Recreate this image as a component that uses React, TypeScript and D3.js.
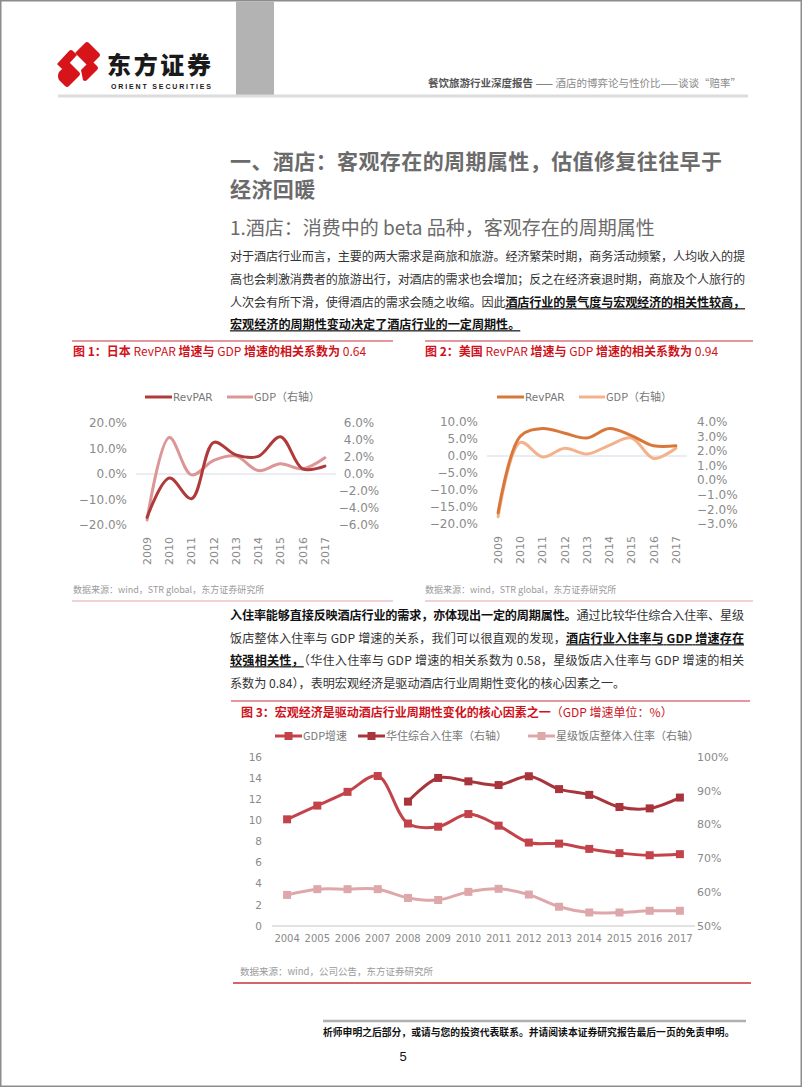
import React from 'react';
import * as d3 from 'd3';

// ---------- data ----------
const years1 = ['2009', '2010', '2011', '2012', '2013', '2014', '2015', '2016', '2017'];
const jpRevpar = [-17.0, -1.6, -9.7, 12.4, 7.5, 6.9, 14.6, 2.0, 3.1];
const jpGdp = [-5.4, 4.3, -0.1, 1.6, 2.1, 0.4, 1.2, 0.6, 1.9];
const jpLeftTicks = [20, 10, 0, -10, -20];
const jpRightTicks = [6, 4, 2, 0, -2, -4, -6];

const usRevpar = [-16.7, 5.8, 8.1, 6.7, 5.3, 8.1, 6.0, 3.0, 3.0];
const usGdp = [-2.5, 2.6, 1.6, 2.2, 1.8, 2.4, 2.9, 1.5, 2.2];
const usLeftTicks = [10, 5, 0, -5, -10, -15, -20];
const usRightTicks = [4, 3, 2, 1, 0, -1, -2, -3];

const years3 = ['2004', '2005', '2006', '2007', '2008', '2009', '2010', '2011', '2012', '2013', '2014', '2015', '2016', '2017'];
const cnGdp = [10.1, 11.4, 12.7, 14.2, 9.7, 9.4, 10.6, 9.5, 7.9, 7.8, 7.3, 6.9, 6.7, 6.8];
const huazhuYears = ['2008', '2009', '2010', '2011', '2012', '2013', '2014', '2015', '2016', '2017'];
const huazhuOcc = [0.868, 0.938, 0.928, 0.917, 0.943, 0.905, 0.888, 0.852, 0.848, 0.880];
const starOcc = [0.592, 0.609, 0.609, 0.609, 0.583, 0.577, 0.601, 0.610, 0.593, 0.557, 0.540, 0.540, 0.545, 0.545];
const c3LeftTicks = [0, 2, 4, 6, 8, 10, 12, 14, 16];
const c3RightTicks = [0.5, 0.6, 0.7, 0.8, 0.9, 1.0];

const CJK = '"Noto Sans CJK SC", "Noto Sans", sans-serif';
const NUM = '"DejaVu Sans", sans-serif';

const fmt1 = (v: number) => (v < 0 ? '−' : '') + Math.abs(v).toFixed(1) + '%';

function DualChart(props: {
  x0: number; x1: number; yTop: number; yBot: number;
  leftDomain: [number, number]; rightDomain: [number, number];
  leftTicks: number[]; rightTicks: number[];
  a: number[]; b: number[]; colA: string; colB: string;
  rightX: number; rightAnchor: 'start' | 'middle'; legendX: number;
}) {
  const { x0, x1, yTop, yBot } = props;
  const x = d3.scalePoint<string>().domain(years1).range([x0, x1]).padding(0.5);
  const yl = d3.scaleLinear().domain(props.leftDomain).range([yBot, yTop]);
  const yr = d3.scaleLinear().domain(props.rightDomain).range([yBot, yTop]);
  const curve = d3.curveCatmullRom.alpha(0.5);
  const lineA = d3.line<number>().x((_, i) => x(years1[i])!).y((d) => yl(d)).curve(curve);
  const lineB = d3.line<number>().x((_, i) => x(years1[i])!).y((d) => yr(d)).curve(curve);
  const lx = props.legendX;
  return (
    <g>
      {/* legend */}
      <line x1={lx} x2={lx + 27} y1={397} y2={397} stroke={props.colA} strokeWidth={3} />
      <text x={lx + 28} y={397} dy="0.35em" fontFamily={NUM} fontSize={10.5} fill="#777">RevPAR</text>
      <line x1={lx + 82} x2={lx + 108} y1={397} y2={397} stroke={props.colB} strokeWidth={3} />
      <text x={lx + 109} y={397} dy="0.35em" fontFamily={CJK} fontSize={11} fill="#777">GDP（右轴）</text>
      {/* zero line */}
      <line x1={x0} x2={x1} y1={yl(0)} y2={yl(0)} stroke="#d3d9e2" strokeWidth={1} />
      {props.leftTicks.map((t) => (
        <text key={'l' + t} x={x0 - 9} y={yl(t)} dy="0.35em" textAnchor="end" fontFamily={NUM} fontSize={12} fill="#8a8a8a">{fmt1(t)}</text>
      ))}
      {props.rightTicks.map((t) => (
        <text key={'r' + t} x={props.rightX} y={yr(t)} dy="0.35em" textAnchor={props.rightAnchor} fontFamily={NUM} fontSize={12} fill="#8a8a8a">{fmt1(t)}</text>
      ))}
      {years1.map((yv) => (
        <text key={yv} transform={`translate(${x(yv)},${yBot + 12}) rotate(-90)`} dy="0.35em" textAnchor="end" fontFamily={NUM} fontSize={11} fill="#8a8a8a">{yv}</text>
      ))}
      <path d={lineB(props.b)!} fill="none" stroke={props.colB} strokeWidth={3} strokeLinecap="round" />
      <path d={lineA(props.a)!} fill="none" stroke={props.colA} strokeWidth={3} strokeLinecap="round" />
    </g>
  );
}

function Chart3() {
  const x = d3.scalePoint<string>().domain(years3).range([272, 695]).padding(0.5);
  const yl = d3.scaleLinear().domain([0, 16]).range([926, 757]);
  const yr = d3.scaleLinear().domain([0.5, 1.0]).range([926, 757]);
  const curve = d3.curveCatmullRom.alpha(0.5);
  const gdpLine = d3.line<number>().x((_, i) => x(years3[i])!).y((d) => yl(d)).curve(curve);
  const hzLine = d3.line<number>().x((_, i) => x(huazhuYears[i])!).y((d) => yr(d)).curve(curve);
  const starLine = d3.line<number>().x((_, i) => x(years3[i])!).y((d) => yr(d)).curve(curve);
  const cG = '#c3434a', cH = '#a8353b', cS = '#dea7aa';
  const ms = 8;
  const legend = [
    { x: 275, label: 'GDP增速', c: cG },
    { x: 358, label: '华住综合入住率（右轴）', c: cH },
    { x: 528, label: '星级饭店整体入住率（右轴）', c: cS },
  ];
  return (
    <g>
      {legend.map((l) => (
        <g key={l.label}>
          <line x1={l.x} x2={l.x + 27} y1={736} y2={736} stroke={l.c} strokeWidth={3} />
          <rect x={l.x + 13.5 - 4} y={736 - 4} width={8} height={8} fill={l.c} />
          <text x={l.x + 28} y={736} dy="0.35em" fontFamily={CJK} fontSize={11} fill="#777">{l.label}</text>
        </g>
      ))}
      <line x1={272} x2={695} y1={926} y2={926} stroke="#d9d9d9" strokeWidth={1.5} />
      {c3LeftTicks.map((t) => (
        <text key={'l' + t} x={262} y={yl(t)} dy="0.35em" textAnchor="end" fontFamily={NUM} fontSize={10.5} fill="#8a8a8a">{t}</text>
      ))}
      {c3RightTicks.map((t) => (
        <text key={'r' + t} x={697} y={yr(t)} dy="0.35em" textAnchor="start" fontFamily={NUM} fontSize={11} fill="#8a8a8a">{Math.round(t * 100) + '%'}</text>
      ))}
      {years3.map((yv) => (
        <text key={yv} x={x(yv)} y={938} dy="0.35em" textAnchor="middle" fontFamily={NUM} fontSize={10} fill="#8a8a8a">{yv}</text>
      ))}
      <path d={starLine(starOcc)!} fill="none" stroke={cS} strokeWidth={3} />
      {starOcc.map((v, i) => (
        <rect key={'s' + i} x={x(years3[i])! - ms / 2} y={yr(v) - ms / 2} width={ms} height={ms} fill={cS} />
      ))}
      <path d={gdpLine(cnGdp)!} fill="none" stroke={cG} strokeWidth={3} />
      {cnGdp.map((v, i) => (
        <rect key={'g' + i} x={x(years3[i])! - ms / 2} y={yl(v) - ms / 2} width={ms} height={ms} fill={cG} />
      ))}
      <path d={hzLine(huazhuOcc)!} fill="none" stroke={cH} strokeWidth={3} />
      {huazhuOcc.map((v, i) => (
        <rect key={'h' + i} x={x(huazhuYears[i])! - ms / 2} y={yr(v) - ms / 2} width={ms} height={ms} fill={cH} />
      ))}
    </g>
  );
}

export default function App() {
  const body = { fontFamily: CJK, fontSize: 12.1, fill: '#333' } as const;
  const ul = { textDecoration: 'underline' } as const;
  return (
    <svg width={802} height={1087} style={{ position: 'absolute', left: 0, top: 0, background: '#fff' }}>
      <rect x={0.75} y={0.75} width={800.5} height={1085.5} fill="#fff" stroke="#8c8c8c" strokeWidth={1.5} />
      {/* header */}
      <rect x={236} y={1.5} width={38} height={94} fill="#b3b3b3" />
      <line x1={58} x2={748} y1={96} y2={96} stroke="#dcdcdc" strokeWidth={3} />
      <g transform="translate(79,66)">
        <path d="M-22,-2 L-10,-15 Q-8,-17 -6,-15 L-2,-11 L-14,2 Q-16,4 -18,2 Z" fill="#d7141a" />
        <path d="M-4,-13 L6,-23 Q8,-25 10,-23 L20,-13 Q22,-11 20,-9 L10,1 Z" fill="#d7141a" />
        <path d="M-20,6 L-10,-4 L0,6 Q2,8 0,10 L-10,20 Q-12,22 -14,20 L-20,14 Q-22,10 -20,6 Z" fill="#d7141a" />
        <path d="M2,4 L12,-6 L18,0 Q20,2 18,4 L8,14 Q6,16 4,14 Z" fill="#d7141a" />
      </g>
      <text x={107} y={66} dy="0.35em" fontFamily={CJK} fontWeight={900} fontSize={24} fill="#1a1a1a" textLength={104}>东方证券</text>
      <text x={111} y={87} dy="0.35em" fontFamily='"Liberation Sans", Arial, sans-serif' fontWeight={700} fontSize={7} fill="#1a1a1a" textLength={100}>ORIENT  SECURITIES</text>
      <text x={741} y={87} textAnchor="end" fontFamily={CJK} fontSize={10.5} fill="#8a8a8a">
        <tspan fontWeight={700} fill="#555">餐饮旅游行业深度报告</tspan>
        <tspan fill="#666"> —— </tspan>
        <tspan>酒店的博弈论与性价比——谈谈“赔率”</tspan>
      </text>

      {/* titles */}
      <text x={230} y={162} dy="0.35em" fontFamily={CJK} fontWeight={700} fontSize={21} fill="#6b6b6b" textLength={492} lengthAdjust="spacing">一、酒店：客观存在的周期属性，估值修复往往早于</text>
      <text x={230} y={190} dy="0.35em" fontFamily={CJK} fontWeight={700} fontSize={21} fill="#6b6b6b" letterSpacing={0.4}>经济回暖</text>
      <text x={230} y={228} dy="0.35em" fontFamily={CJK} fontSize={19} fill="#6b6b6b">1.酒店：消费中的 beta 品种，客观存在的周期属性</text>

      {/* paragraph 1 */}
      <text x={230} y={257} dy="0.35em" {...body} textLength={515} lengthAdjust="spacing">对于酒店行业而言，主要的两大需求是商旅和旅游。经济繁荣时期，商务活动频繁，人均收入的提</text>
      <text x={230} y={280} dy="0.35em" {...body} textLength={515} lengthAdjust="spacing">高也会刺激消费者的旅游出行，对酒店的需求也会增加；反之在经济衰退时期，商旅及个人旅行的</text>
      <text x={230} y={303} dy="0.35em" {...body} textLength={515} lengthAdjust="spacing">人次会有所下滑，使得酒店的需求会随之收缩。因此<tspan fontWeight={700} fill="#111" style={ul}>酒店行业的景气度与宏观经济的相关性较高，</tspan></text>
      <text x={230} y={325} dy="0.35em" {...body}><tspan fontWeight={700} fill="#111" style={ul}>宏观经济的周期性变动决定了酒店行业的一定周期性。</tspan></text>

      {/* chart 1 & 2 frames */}
      <line x1={72} x2={393} y1={341} y2={341} stroke="#c9303a" strokeWidth={1} />
      <line x1={425} x2={753} y1={341} y2={341} stroke="#c9303a" strokeWidth={1} />
      <line x1={72} x2={393} y1={601} y2={601} stroke="#e2a5a8" strokeWidth={1} />
      <line x1={425} x2={753} y1={601} y2={601} stroke="#e2a5a8" strokeWidth={1} />
      <text x={73} y={352} dy="0.35em" fontFamily={CJK} fontSize={12} fill="#d0121b">
        <tspan fontWeight={700}>图 1：日本 </tspan><tspan>RevPAR </tspan><tspan fontWeight={700}>增速与 </tspan><tspan>GDP </tspan><tspan fontWeight={700}>增速的相关系数为 </tspan><tspan>0.64</tspan>
      </text>
      <text x={425} y={352} dy="0.35em" fontFamily={CJK} fontSize={12} fill="#d0121b">
        <tspan fontWeight={700}>图 2：美国 </tspan><tspan>RevPAR </tspan><tspan fontWeight={700}>增速与 </tspan><tspan>GDP </tspan><tspan fontWeight={700}>增速的相关系数为 </tspan><tspan>0.94</tspan>
      </text>
      <DualChart x0={136} x1={336} yTop={423} yBot={525} leftDomain={[-20, 20]} rightDomain={[-6, 6]}
        leftTicks={jpLeftTicks} rightTicks={jpRightTicks} a={jpRevpar} b={jpGdp}
        colA="#b03a3a" colB="#dc9696" rightX={359} rightAnchor="middle" legendX={145} />
      <DualChart x0={487} x1={687} yTop={422} yBot={524} leftDomain={[-20, 10]} rightDomain={[-3, 4]}
        leftTicks={usLeftTicks} rightTicks={usRightTicks} a={usRevpar} b={usGdp}
        colA="#d9773a" colB="#f4b28c" rightX={697} rightAnchor="start" legendX={497} />
      <text x={73} y={590} dy="0.35em" fontFamily={CJK} fontSize={9} fill="#9a9a9a">数据来源：wind，STR global，东方证券研究所</text>
      <text x={425} y={590} dy="0.35em" fontFamily={CJK} fontSize={9} fill="#9a9a9a">数据来源：wind，STR global，东方证券研究所</text>

      {/* paragraph 2 */}
      <text x={230} y={616} dy="0.35em" {...body} textLength={514} lengthAdjust="spacing"><tspan fontWeight={700} fill="#111">入住率能够直接反映酒店行业的需求，亦体现出一定的周期属性。</tspan>通过比较华住综合入住率、星级</text>
      <text x={230} y={639} dy="0.35em" {...body} textLength={514} lengthAdjust="spacing">饭店整体入住率与 GDP 增速的关系，我们可以很直观的发现，<tspan fontWeight={700} fill="#111" style={ul}>酒店行业入住率与 GDP 增速存在</tspan></text>
      <text x={230} y={661} dy="0.35em" {...body} textLength={514} lengthAdjust="spacing"><tspan fontWeight={700} fill="#111" style={ul}>较强相关性，</tspan>（华住入住率与 GDP 增速的相关系数为 0.58，星级饭店入住率与 GDP 增速的相关</text>
      <text x={230} y={684} dy="0.35em" {...body}>系数为 0.84），表明宏观经济是驱动酒店行业周期性变化的核心因素之一。</text>

      {/* chart 3 */}
      <line x1={231} x2={750} y1={701} y2={701} stroke="#c9303a" strokeWidth={1} />
      <text x={241} y={713} dy="0.35em" fontFamily={CJK} fontSize={12} fill="#d0121b">
        <tspan fontWeight={700}>图 3：宏观经济是驱动酒店行业周期性变化的核心因素之一</tspan><tspan>（GDP 增速单位：%）</tspan>
      </text>
      <Chart3 />
      <text x={240} y={972} dy="0.35em" fontFamily={CJK} fontSize={9.5} fill="#9a9a9a">数据来源：wind，公司公告，东方证券研究所</text>
      <line x1={233} x2={751} y1={983} y2={983} stroke="#c9303a" strokeWidth={1.5} />

      {/* footer */}
      <line x1={323} x2={746} y1={1021} y2={1021} stroke="#b0b0b0" strokeWidth={2.5} />
      <text x={323} y={1033} dy="0.35em" fontFamily={CJK} fontWeight={700} fontSize={9.8} fill="#111">析师申明之后部分，或请与您的投资代表联系。并请阅读本证券研究报告最后一页的免责申明。</text>
      <text x={403} y={1056} dy="0.35em" textAnchor="middle" fontFamily='"Liberation Sans", Arial, sans-serif' fontSize={13} fill="#111">5</text>
    </svg>
  );
}
